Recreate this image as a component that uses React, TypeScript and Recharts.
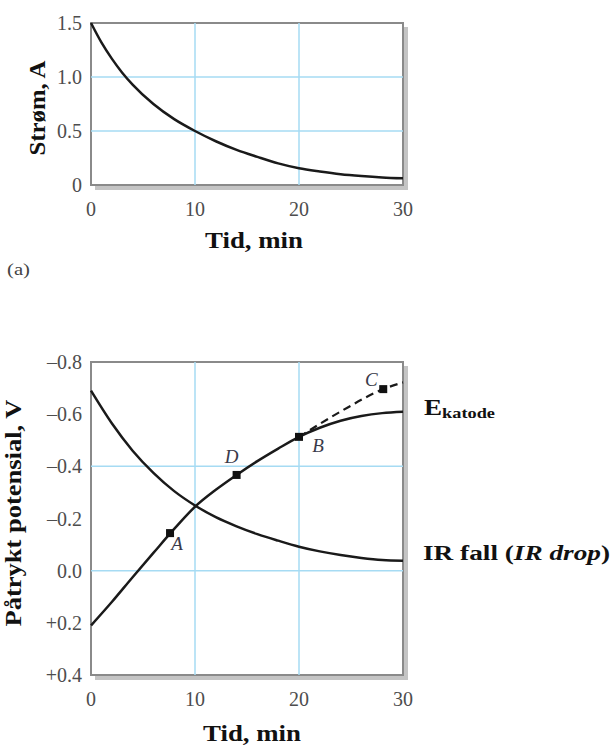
import {
  ComposedChart,
  Line,
  Scatter,
  XAxis,
  YAxis,
  ReferenceLine,
  ReferenceArea,
  LabelList,
} from "recharts";

// (a) strøm mot tid
const currentTime = [0, 1, 2, 3, 4, 6, 8, 10, 12, 14, 16, 18, 20, 22, 24, 26, 28, 30];
const currentAmps = [1.5, 1.32, 1.17, 1.04, 0.93, 0.75, 0.61, 0.5, 0.405, 0.325, 0.26, 0.2, 0.155, 0.125, 0.1, 0.083, 0.07, 0.062];

// (b) påtrykt potensial
const potTime = [0, 2, 4, 6, 8, 10, 12, 14, 16, 18, 20, 22, 24, 26, 28, 30];
const cathodeV = [0.21, 0.12, 0.025, -0.068, -0.16, -0.245, -0.31, -0.367, -0.42, -0.468, -0.513, -0.548, -0.575, -0.593, -0.604, -0.609];
const irDropV = [-0.69, -0.565, -0.46, -0.375, -0.305, -0.25, -0.205, -0.17, -0.14, -0.115, -0.092, -0.074, -0.06, -0.049, -0.041, -0.038];
const dashedTime = [20, 24, 28.1, 30];
const dashedV = [-0.513, -0.61, -0.696, -0.722];
const markerNames = ["A", "D", "B", "C"];
const markerTime = [7.6, 14.0, 20, 28.1];
const markerV = [-0.144, -0.367, -0.513, -0.696];

const xTicks = [0, 10, 20, 30];
const currentTicks = [0, 0.5, 1.0, 1.5];
const currentGrid = [0.5, 1.0];
const potTicks = [-0.8, -0.6, -0.4, -0.2, 0, 0.2, 0.4];
const potGrid = [-0.4, 0];
const timeGrid = [10, 20];

const currentData = currentTime.map((t, i) => ({ t, v: currentAmps[i] }));
const cathodeData = potTime.map((t, i) => ({ t, v: cathodeV[i] }));
const irData = potTime.map((t, i) => ({ t, v: irDropV[i] }));
const dashedData = dashedTime.map((t, i) => ({ t, v: dashedV[i] }));
const markerData = markerNames.map((name, i) => ({ name, t: markerTime[i], v: markerV[i] }));

const labelOffset: Record<string, [number, number]> = {
  A: [7, 10],
  D: [-5, -18],
  B: [19, 9],
  C: [-12, -10],
};

const SERIF = "'Liberation Serif', 'DejaVu Serif', serif";
const GRID = "#a6dbf3";
const TICK = { fontSize: 20, fill: "#4d4d4d", fontFamily: SERIF };

function Frame(props: any) {
  const { x, y, width, height } = props;
  return (
    <g>
      <rect x={x + width} y={y + 4} width={5} height={height} fill="#c4c4c4" />
      <rect x={x + 4} y={y + height} width={width + 1} height={5} fill="#c4c4c4" />
      <rect x={x} y={y} width={width} height={height} fill="none" stroke="#8a8a8a" strokeWidth={2} />
    </g>
  );
}

function Square(props: any) {
  const { cx, cy } = props;
  return <rect x={cx - 4} y={cy - 4} width={8} height={8} fill="#111" />;
}

function MarkerLabel(props: any) {
  const { x, y, width, height, value } = props;
  const [dx, dy] = labelOffset[value] || [0, 0];
  const cx = x + width / 2;
  const cy = y + height / 2;
  return (
    <text
      x={cx + dx}
      y={cy + dy}
      textAnchor="middle"
      dominantBaseline="central"
      fontFamily={SERIF}
      fontStyle="italic"
      fontSize={19}
      fill="#3a3a4a"
    >
      {value}
    </text>
  );
}

const fmtPot = (v: number) => {
  if (v === 0) return "0.0";
  return (v < 0 ? "–" : "+") + Math.abs(v).toFixed(1);
};

export default function App() {
  return (
    <div style={{ position: "fixed", left: 0, top: 0, width: 611, height: 745, background: "#fff" }}>
      <div style={{ position: "absolute", left: 0, top: 0 }}>
        <ComposedChart width={611} height={260} margin={{ top: 23, right: 208, bottom: 45, left: 0 }}>
          <XAxis
            dataKey="t"
            type="number"
            domain={[0, 30]}
            ticks={xTicks}
            axisLine={false}
            tickLine={false}
            tickSize={0}
            tickMargin={17}
            height={30}
            tick={TICK}
          />
          <YAxis
            type="number"
            domain={[0, 1.5]}
            ticks={currentTicks}
            tickFormatter={(v: number) => (v === 0 ? "0" : v.toFixed(1))}
            axisLine={false}
            tickLine={false}
            tickSize={0}
            tickMargin={9}
            width={91}
            tick={TICK}
          />
          {timeGrid.map((t) => (
            <ReferenceLine key={"x" + t} x={t} stroke={GRID} strokeWidth={1.5} />
          ))}
          {currentGrid.map((v) => (
            <ReferenceLine key={"y" + v} y={v} stroke={GRID} strokeWidth={1.5} />
          ))}
          <ReferenceArea x1={0} x2={30} y1={0} y2={1.5} shape={<Frame />} />
          <Line
            data={currentData}
            dataKey="v"
            type="monotone"
            stroke="#1a1a1a"
            strokeWidth={2.5}
            dot={false}
            isAnimationActive={false}
          />
        </ComposedChart>
      </div>

      <div style={{ position: "absolute", left: 0, top: 300 }}>
        <ComposedChart width={611} height={445} margin={{ top: 62, right: 208, bottom: 40, left: 0 }}>
          <XAxis
            dataKey="t"
            type="number"
            domain={[0, 30]}
            ticks={xTicks}
            axisLine={false}
            tickLine={false}
            tickSize={0}
            tickMargin={17}
            height={30}
            tick={TICK}
          />
          <YAxis
            type="number"
            domain={[-0.8, 0.4]}
            reversed
            ticks={potTicks}
            tickFormatter={fmtPot}
            axisLine={false}
            tickLine={false}
            tickSize={0}
            tickMargin={9}
            width={91}
            tick={TICK}
          />
          {timeGrid.map((t) => (
            <ReferenceLine key={"x" + t} x={t} stroke={GRID} strokeWidth={1.5} />
          ))}
          {potGrid.map((v) => (
            <ReferenceLine key={"y" + v} y={v} stroke={GRID} strokeWidth={1.5} />
          ))}
          <ReferenceArea x1={0} x2={30} y1={-0.8} y2={0.4} shape={<Frame />} />
          <Line
            data={irData}
            dataKey="v"
            type="monotone"
            stroke="#1a1a1a"
            strokeWidth={2.5}
            dot={false}
            isAnimationActive={false}
          />
          <Line
            data={cathodeData}
            dataKey="v"
            type="monotone"
            stroke="#1a1a1a"
            strokeWidth={2.5}
            dot={false}
            isAnimationActive={false}
          />
          <Line
            data={dashedData}
            dataKey="v"
            type="monotone"
            stroke="#1a1a1a"
            strokeWidth={2.2}
            strokeDasharray="8 5"
            dot={false}
            isAnimationActive={false}
          />
          <Scatter data={markerData} dataKey="v" shape={<Square />} isAnimationActive={false}>
            <LabelList dataKey="name" content={<MarkerLabel />} />
          </Scatter>
        </ComposedChart>
      </div>

      <svg
        width={611}
        height={745}
        style={{ position: "absolute", left: 0, top: 0, pointerEvents: "none" }}
        fontFamily={SERIF}
      >
        <text x={37} y={108} transform="rotate(-90 37 108)" textAnchor="middle" dominantBaseline="central" fontWeight="bold" fontSize={23} fill="#111" textLength={95} lengthAdjust="spacingAndGlyphs">
          Strøm, A
        </text>
        <text x={254} y={240} textAnchor="middle" dominantBaseline="central" fontWeight="bold" fontSize={23} fill="#111" textLength={98} lengthAdjust="spacingAndGlyphs">
          Tid, min
        </text>
        <text x={7} y={269} dominantBaseline="central" fontSize={16} fill="#444" textLength={23} lengthAdjust="spacingAndGlyphs">
          (a)
        </text>
        <text x={13} y={513} transform="rotate(-90 13 513)" textAnchor="middle" dominantBaseline="central" fontWeight="bold" fontSize={23} fill="#111" textLength={227} lengthAdjust="spacingAndGlyphs">
          Påtrykt potensial, V
        </text>
        <text x={252} y={733} textAnchor="middle" dominantBaseline="central" fontWeight="bold" fontSize={23} fill="#111" textLength={98} lengthAdjust="spacingAndGlyphs">
          Tid, min
        </text>
        <g transform="translate(424 415) scale(1.18 1)">
          <text x={0} y={0} fontWeight="bold" fill="#111">
            <tspan fontSize={23}>E</tspan>
            <tspan fontSize={15.5} dy={3}>katode</tspan>
          </text>
        </g>
        <g transform="translate(423 552) scale(1.24 1)">
          <text x={0} y={0} dominantBaseline="central" fontWeight="bold" fontSize={22} fill="#111">
            IR fall (<tspan fontStyle="italic">IR drop</tspan>)
          </text>
        </g>
      </svg>
    </div>
  );
}
